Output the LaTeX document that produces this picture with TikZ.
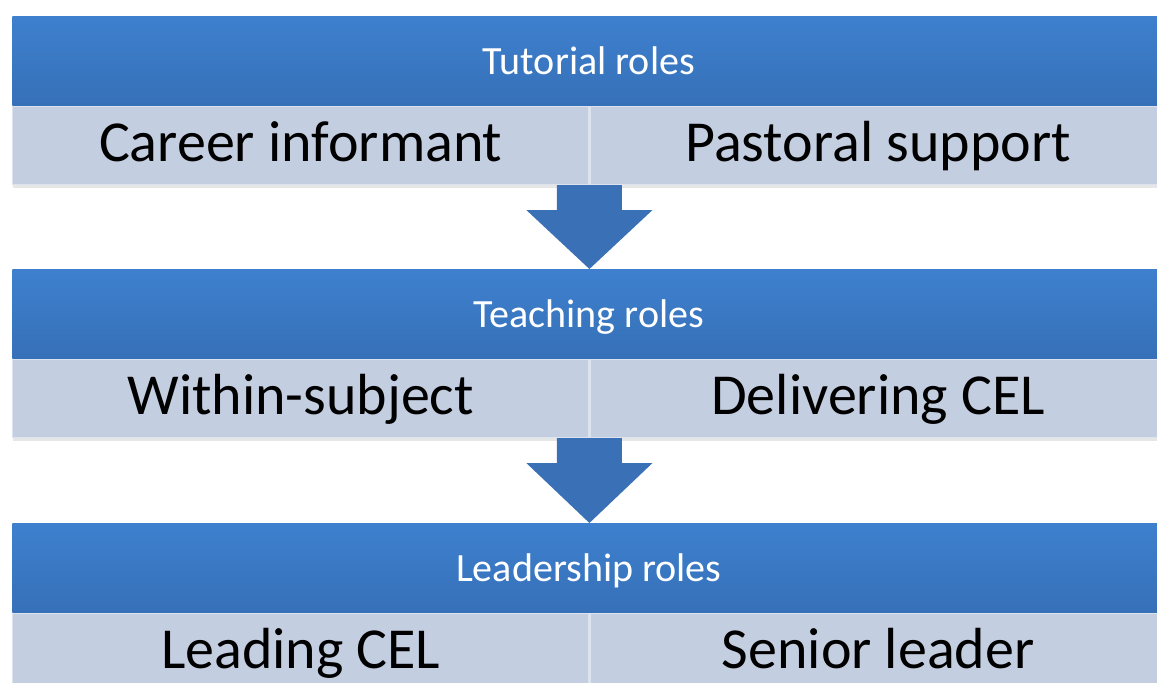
\documentclass[tikz,border=0pt]{standalone}
\usepackage{fontspec}
\setmainfont{Carlito}
\usetikzlibrary{calc,shadows}

\definecolor{headtop}{HTML}{3E80CE}
\definecolor{headbot}{HTML}{3670B8}
\definecolor{rolefill}{HTML}{C4CEE1}
\definecolor{roleedge}{HTML}{DCE3EF}
\definecolor{arrowblue}{HTML}{3A70B6}

\begin{document}
\begin{tikzpicture}[
        head/.style={rectangle,anchor=north west,inner sep=0pt,minimum width=23.06cm,minimum height=1.78cm,
            text height=18pt,text depth=2pt,
            top color=headtop,bottom color=headbot,text=white,font=\fontsize{22.8}{26}\selectfont},
        role/.style={rectangle,anchor=north west,inner sep=0pt,minimum width=11.52cm,minimum height=1.56cm,
            text height=25pt,text depth=7pt,
            fill=rolefill,draw=roleedge,line width=0.8pt,font=\fontsize{33}{38}\selectfont,
            drop shadow={opacity=0.2,shadow xshift=0pt,shadow yshift=-2pt}},
        downarrow/.style={fill=arrowblue}
    ]
            \useasboundingbox (0,0) rectangle (23.14,13.64);
            \clip (0,0) rectangle (23.14,13.64);
            %tutorial block
            \node[head] (tut) at (0.24,13.32) {Tutorial roles};
            \node[role] (career) at (tut.south west) {Career informant};
            \node[role] (pastoral) at (career.north east) {Pastoral support};
            %teaching block
            \node[head] (teach) at (0.24,8.26) {Teaching roles};
            \node[role] (within) at (teach.south west) {Within-subject};
            \node[role] (deliver) at (within.north east) {Delivering CEL};
            %leadership block
            \node[head] (lead) at (0.24,3.18) {Leadership roles};
            \node[role] (leading) at (lead.south west) {Leading CEL};
            \node[role] (senior) at (leading.north east) {Senior leader};
            %arrows
            \fill[downarrow] ($(career.south east)+(-0.65,0)$) -- ($(career.south east)+(-0.65,-0.5)$)
                -- ($(career.south east)+(-1.26,-0.5)$) -- (career.south east |- teach.north)
                -- ($(career.south east)+(1.26,-0.5)$) -- ($(career.south east)+(0.65,-0.5)$)
                -- ($(career.south east)+(0.65,0)$) -- cycle;
            \fill[downarrow] ($(within.south east)+(-0.65,0)$) -- ($(within.south east)+(-0.65,-0.5)$)
                -- ($(within.south east)+(-1.26,-0.5)$) -- (within.south east |- lead.north)
                -- ($(within.south east)+(1.26,-0.5)$) -- ($(within.south east)+(0.65,-0.5)$)
                -- ($(within.south east)+(0.65,0)$) -- cycle;
        \end{tikzpicture}
\end{document}
